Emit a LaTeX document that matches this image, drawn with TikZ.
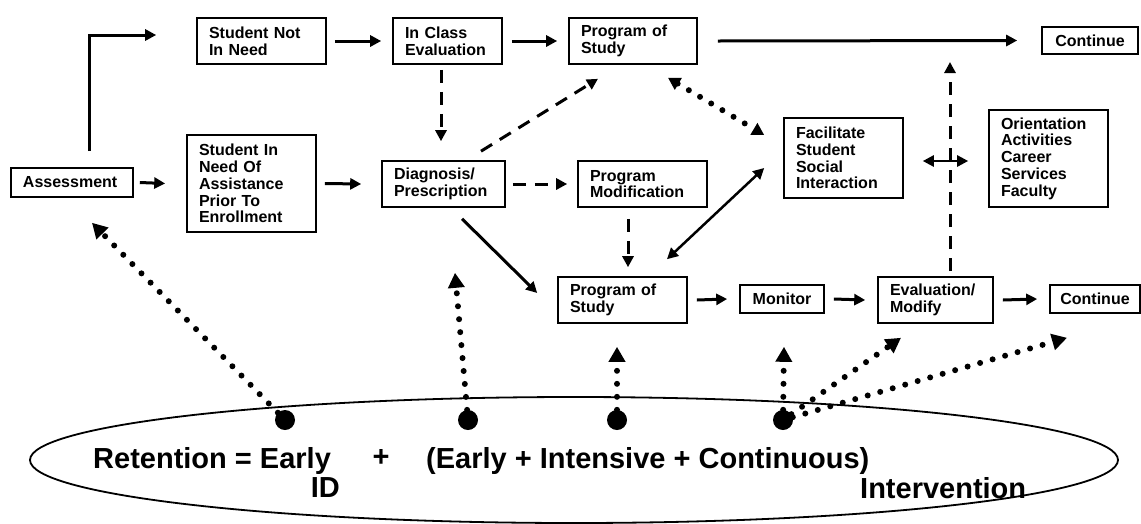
\documentclass[tikz,border=0pt]{standalone}
\usepackage{fontspec}
\setmainfont{Liberation Sans}
\usetikzlibrary{arrows.meta,shapes.geometric}

\tikzset{
  blk/.style={draw, line width=1.6pt, align=left, inner xsep=12pt, inner ysep=0pt,
    font=\fontsize{16}{16.8}\selectfont\bfseries},
  arr/.style={line width=3pt, ->},
  dsh/.style={line width=3pt, dash pattern=on 13pt off 9pt, ->},
  dts/.style={line width=6pt, line cap=round, dash pattern=on 0pt off 13pt,
    -{Triangle[length=15pt,width=16pt]}},
  dot/.style={circle, fill=black, minimum size=20pt, inner sep=0pt},
  eqn/.style={font=\fontsize{29}{31}\selectfont\bfseries, inner sep=0pt}
}

\begin{document}
\begin{tikzpicture}[x=1pt, y=-1pt, >={Triangle[length=11pt,width=11pt]}]
	\useasboundingbox (0,0) rectangle (1141,523);
	% boxes
	\node[blk, text width=98pt, minimum height=29pt] (asmt) at (72,182.5) {Assessment};
	\node[blk, text width=105pt, minimum height=46pt] (notneed) at (261.5,41) {Student Not\\In Need};
	\node[blk, text width=85pt, minimum height=46pt] (inclass) at (447.5,41) {In Class\\Evaluation};
	\node[blk, text width=104pt, minimum height=46pt] (pos1) at (633,41) {Program of\\Study};
	\node[blk, align=center, text width=72pt, minimum height=27pt] (cont1) at (1090,40.5) {Continue};
	\node[blk, text width=105pt, minimum height=97pt] (inneed) at (251.5,183.5) {Student In\\Need Of\\Assistance\\Prior To\\Enrollment};
	\node[blk, text width=99pt, minimum height=46pt] (diag) at (443.5,184) {Diagnosis/\\Prescription};
	\node[blk, text width=105pt, minimum height=46pt] (progmod) at (642.5,184) {Program\\Modification};
	\node[blk, text width=95pt, minimum height=80pt] (facil) at (843.5,158) {Facilitate\\Student\\Social\\Interaction};
	\node[blk, text width=95pt, minimum height=97pt] (orient) at (1048.5,158.5) {Orientation\\Activities\\Career\\Services\\Faculty};
	\node[blk, text width=105pt, minimum height=46pt] (pos2) at (622.5,300) {Program of\\Study};
	\node[blk, align=center, text width=60pt, minimum height=28pt] (monitor) at (782,299) {Monitor};
	\node[blk, text width=91pt, minimum height=46pt] (evalmod) at (935.5,300) {Evaluation/\\Modify};
	\node[blk, align=center, inner xsep=10pt, text width=70pt, minimum height=28pt] (cont2) at (1095,299) {Continue};
	% the ellipse and its text
	\node[draw, ellipse, line width=1.8pt, minimum width=1088pt, minimum height=126pt, inner sep=0pt] (ring) at (574,460) {};
	\node[eqn, anchor=base west] (eqa) at (93,468) {Retention = Early};
	\node[eqn] (eqp) at (381,458) {+};
	\node[eqn, anchor=base west] (eqb) at (426,468) {(Early + Intensive + Continuous)};
	\node[eqn, anchor=base east] (eqid) at (340,497) {ID};
	\node[eqn, anchor=base west] (eqint) at (860,498) {Intervention};
	\foreach \i/\x in {1/285,2/468,3/617,4/783} \node[dot] (dot\i) at (\x,420) {};
	\coordinate (gap) at (950,62);
	% solid arrows
	\draw[arr] ([xshift=6pt]asmt.east) -- ([xshift=-21pt]inneed.west);
	\draw[arr] ([xshift=17pt,yshift=16pt]asmt.north) |- ([xshift=-40pt,yshift=6pt]notneed.west);
	\draw[arr] ([xshift=8pt]notneed.east) -- ([xshift=-11pt]inclass.west);
	\draw[arr] ([xshift=9pt]inclass.east) -- ([xshift=-11pt]pos1.west);
	\draw[arr] ([xshift=20pt]pos1.east) -- ([xshift=-24pt]cont1.west);
	\draw[arr] ([xshift=8pt]inneed.east) -- ([xshift=-20pt]diag.west);
	\draw[arr] ([xshift=18.5pt,yshift=-11pt]diag.south) -- ([xshift=-20pt,yshift=7pt]pos2.west);
	\foreach \a/\b in {pos2/monitor,monitor/evalmod,evalmod/cont2} \draw[arr] ([xshift=9pt]\a.east) -- ([xshift=-12pt]\b.west);
	\draw[line width=2.5pt, <->] ([xshift=-19pt,yshift=-10pt]facil.west) -- ([xshift=44.5pt,yshift=17pt]pos2.north);
	\draw[line width=2.5pt, <->] ([xshift=19pt,yshift=-3pt]facil.east) -- ([xshift=-20pt,yshift=-2.5pt]orient.west);
	% dashed arrows
	\draw[dsh] ([xshift=-6.5pt,yshift=-5pt]inclass.south) -- ([xshift=-2.5pt,yshift=19pt]diag.north);
	\draw[dsh] ([xshift=37.5pt,yshift=9pt]diag.north) -- ([xshift=-35pt,yshift=-14pt]pos1.south);
	\draw[dsh] ([xshift=7pt]diag.east) -- ([xshift=-10pt]progmod.west);
	\draw[dsh] ([xshift=-14.5pt,yshift=-11pt]progmod.south) -- ([xshift=5.5pt,yshift=9pt]pos2.north);
	\draw[dsh] ([xshift=14.5pt,yshift=5pt]evalmod.north) -- (gap);
	% dotted arrows
	\draw[dts, {Triangle[length=12pt,width=13pt]}-{Triangle[length=12pt,width=13pt]}] ([xshift=35pt,yshift=-13pt]pos1.south) -- ([xshift=-19pt,yshift=23pt]facil.west);
	\draw[dts] (dot1) -- ([xshift=20pt,yshift=-25pt]asmt.south);
	\draw[dts] (dot2) -- ([xshift=11.5pt,yshift=-65pt]diag.south);
	\draw[dts] (dot3) -- ([xshift=-5.5pt,yshift=-23pt]pos2.south);
	\draw[dts] (dot4) -- ([xshift=2pt,yshift=-33pt]monitor.south);
	\draw[dts] (dot4) -- ([xshift=-34.5pt,yshift=-14pt]evalmod.south);
	\draw[dts] (dot4) -- ([xshift=-28pt,yshift=-24pt]cont2.south);
\end{tikzpicture}
\end{document}
